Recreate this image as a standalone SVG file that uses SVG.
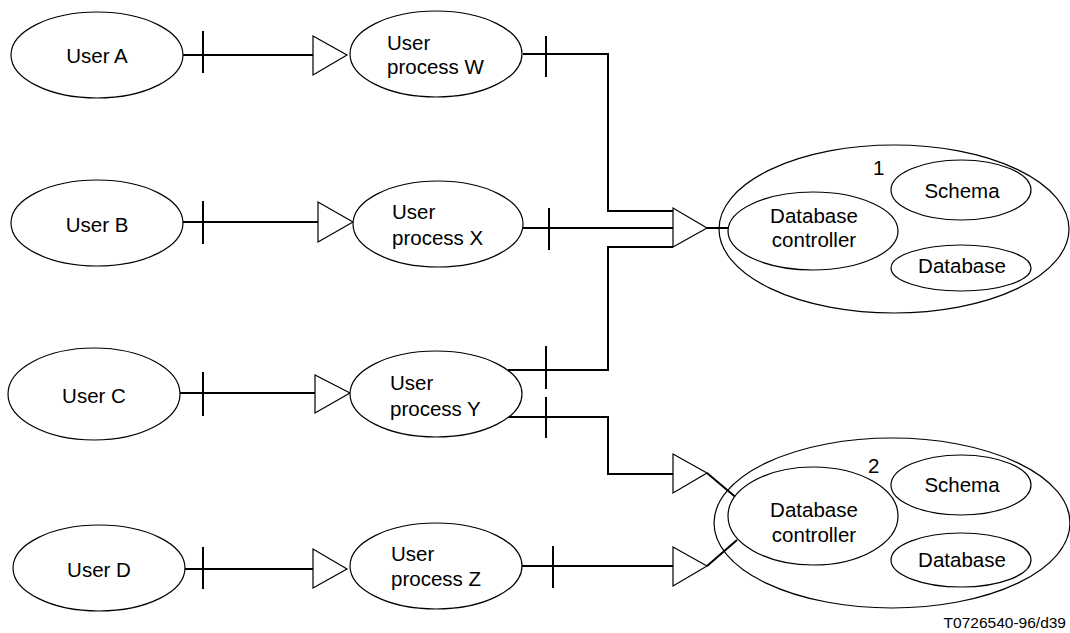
<svg xmlns="http://www.w3.org/2000/svg" width="1070" height="633" viewBox="0 0 1070 633">
<style>
.n{fill:#fff;stroke:#000;stroke-width:1.2}
.o{fill:none;stroke:#000;stroke-width:1.2}
.t{font-family:"Liberation Sans",Arial,sans-serif;font-size:20.5px;fill:#000}
.m{text-anchor:middle}
.c{fill:none;stroke:#000;stroke-width:2}
.a{fill:#fff;stroke:#000;stroke-width:1.2;stroke-linejoin:miter}
.f{font-family:"Liberation Sans",Arial,sans-serif;font-size:15.5px;fill:#000}
</style>
<rect width="1070" height="633" fill="#fff"/>
<g id="connectors">
<path class="c" d="M183 55H313M203 31V73"/>
<path class="c" d="M183 222H318M203 201V244"/>
<path class="c" d="M180 393H315M203 372V416"/>
<path class="c" d="M185 569H313M203 547V589"/>
<path class="c" d="M523 54H608V211H673M546 36V77"/>
<path class="c" d="M523 228H673M549 208V250"/>
<path class="c" d="M508 370H608V247H673M546 346V389"/>
<path class="c" d="M508 417H608V474H673M546 397V438"/>
<path class="c" d="M522 566H673M553 546V588"/>
<path class="c" d="M707 228H728"/>
<path class="c" d="M707 473L739 500M707 566L737 540" stroke-width="1.6"/>
<polygon class="a" points="313,36 313,75 347,55"/>
<polygon class="a" points="318,202 318,242 353,222"/>
<polygon class="a" points="315,375 315,413 350,393"/>
<polygon class="a" points="313,549 313,588 347,569"/>
<polygon class="a" points="673,208 673,247 707,228"/>
<polygon class="a" points="673,454 673,493 707,473"/>
<polygon class="a" points="673,547 673,586 707,566"/>
</g>
<g id="userA"><ellipse class="n" cx="97" cy="55" rx="86" ry="43"/><text class="t m" x="97" y="63">User A</text></g>
<g id="userB"><ellipse class="n" cx="97" cy="223" rx="86" ry="43"/><text class="t m" x="97" y="232">User B</text></g>
<g id="userC"><ellipse class="n" cx="94" cy="394" rx="86" ry="46"/><text class="t m" x="94" y="403">User C</text></g>
<g id="userD"><ellipse class="n" cx="99" cy="568" rx="86" ry="43"/><text class="t m" x="99" y="577">User D</text></g>
<g id="procW"><ellipse class="n" cx="436" cy="54" rx="86" ry="43"/><text class="t" x="387" y="50">User</text><text class="t" x="387" y="74">process W</text></g>
<g id="procX"><ellipse class="n" cx="438" cy="224" rx="85" ry="43"/><text class="t" x="392" y="219">User</text><text class="t" x="392" y="245">process X</text></g>
<g id="procY"><ellipse class="n" cx="436" cy="394" rx="86" ry="43"/><text class="t" x="390" y="390">User</text><text class="t" x="390" y="416">process Y</text></g>
<g id="procZ"><ellipse class="n" cx="436" cy="566" rx="86" ry="43"/><text class="t" x="391" y="561">User</text><text class="t" x="391" y="586">process Z</text></g>
<g id="db1">
<ellipse class="o" cx="894" cy="229" rx="175" ry="84"/>
<text class="t" x="873" y="175">1</text>
<ellipse class="n" cx="813" cy="231" rx="85" ry="39"/>
<text class="t m" x="814" y="223">Database</text><text class="t m" x="814" y="247">controller</text>
<ellipse class="n" cx="961" cy="190" rx="70" ry="30"/><text class="t m" x="962" y="198">Schema</text>
<ellipse class="n" cx="961" cy="268" rx="70" ry="23"/><text class="t m" x="962" y="273">Database</text>
</g>
<g id="db2">
<ellipse class="o" cx="892" cy="523" rx="178" ry="85"/>
<text class="t" x="868" y="473">2</text>
<ellipse class="n" cx="813" cy="516" rx="85" ry="49"/>
<text class="t m" x="814" y="517">Database</text><text class="t m" x="814" y="542">controller</text>
<ellipse class="n" cx="961" cy="485" rx="70" ry="30"/><text class="t m" x="962" y="492">Schema</text>
<ellipse class="n" cx="961" cy="560" rx="70" ry="27"/><text class="t m" x="962" y="567">Database</text>
</g>
<text class="f" x="1066" y="628" text-anchor="end">T0726540-96/d39</text>
</svg>
